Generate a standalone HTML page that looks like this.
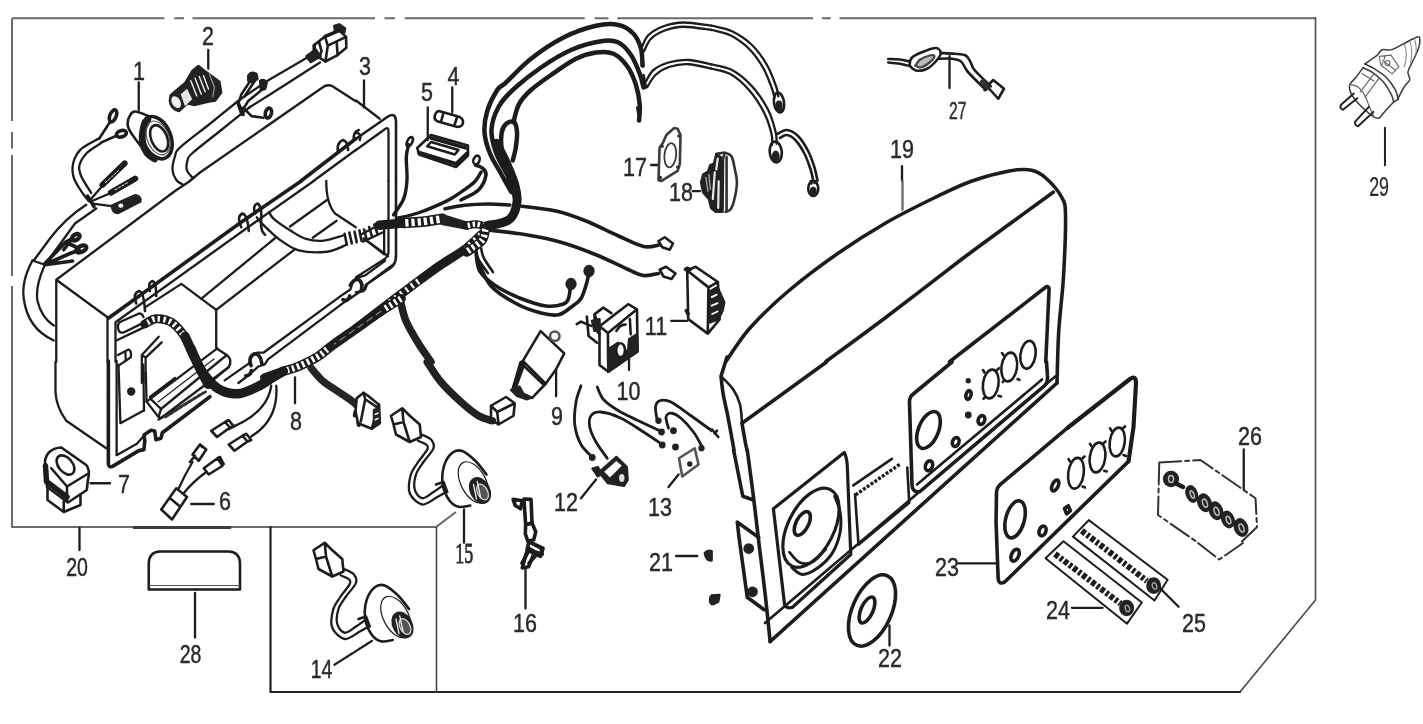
<!DOCTYPE html>
<html><head><meta charset="utf-8"><title>Parts diagram</title>
<style>
html,body{margin:0;padding:0;background:#fff;}
body{width:1423px;height:724px;overflow:hidden;position:relative;font-family:"Liberation Sans",sans-serif;}
svg{position:absolute;left:0;top:0;display:block}
svg path,svg line,svg ellipse,svg circle,svg rect,svg polyline,svg polygon{vector-effect:non-scaling-stroke}
.d{fill:none;stroke:#1e1e1e;stroke-width:2.3;stroke-linecap:round;stroke-linejoin:round}
.t{stroke-width:1.2}
.k{stroke-width:2.6}
.kk{stroke-width:3.6}
.f{fill:#222;stroke:#222}
.w{fill:#fff}
.fr{fill:none;stroke:#6a6a6a;stroke-width:2}
/*labels*/
text{font-family:"Liberation Sans",sans-serif;font-size:25px;fill:#2a2a2a;stroke:#2a2a2a;stroke-width:.45;text-anchor:middle}
</style></head><body>
<svg width="1423" height="724" viewBox="0 0 1423 724">
<defs><filter id="b" x="-2%" y="-2%" width="104%" height="104%"><feGaussianBlur stdDeviation="0.7"/></filter></defs>
<g filter="url(#b)">
<!-- 00_frame.svg -->
<g class="fr">
<path d="M12,18.3 H164.4 M174.3,18.3 H184 M192.5,18.3 H375 M384.5,18.3 H395 M404.75,18.3 H584.75 M594.75,18.3 H608.5 M617.25,18.3 H813 M822,18.3 H830.75 M839.5,18.3 H1315.5"/>
<path d="M1315.5,17.3 V600" style="stroke-width:1.7;stroke:#555"/>
<path d="M1315.5,600 L1240,692" style="stroke-width:1.5;stroke:#444"/>
<path d="M12,18.3 V121 M12,132 V148.6 M12,155 V276 M12,286 V527 H436 L456,512"/>
</g>
<path class="d" d="M1240,692 H270.5 V527" style="stroke:#222;stroke-width:2.2"/>
<path class="d" d="M436.5,527 V692" style="stroke:#444;stroke-width:1.6"/>
<path d="M133,527.5 H231" style="stroke:#3a3a3a;stroke-width:3;fill:none"/>
<!-- 10_t00.svg -->
<g transform="translate(0 0) scale(.25)" class="d">
<!-- leaders -->
<path d="M555,330 V440 M833,200 V275"/>
<!-- tube from connector -->
<path d="M1250,218 L1075,320 L960,398"/><path d="M960,398 C940.0,414.2 880.0,463.0 840,495 C800.0,527.0 743.3,568.3 720,590 C696.7,611.7 705.0,610.0 700,625 C695.0,640.0 689.0,664.0 690,680 C691.0,696.0 699.2,711.3 706,721 C712.8,730.7 726.8,735.2 731,738"/>
<path d="M1280,250 L1080,378 L1000,428"/><path d="M1000,428 C980.8,443.3 923.3,489.3 885,520 C846.7,550.7 792.5,591.7 770,612 C747.5,632.3 753.7,630.3 750,642 C746.3,653.7 744.2,670.2 748,682 C751.8,693.8 768.8,707.8 773,713"/>
<!-- flange top continuing -->
<path class="kk" d="M1205,723 L1423,555"/>
<path d="M1255,723 L1423,600"/>
<path class="k" d="M1352,610 Q1345,570 1372,560 Q1392,565 1392,600 M1415,560 Q1412,528 1435,520"/>
<!-- box top edge -->
<path d="M1423,405 L1330,345 Q1310,335 1290,350 L800,690 L760,723"/>
</g>
<!-- 11_t01.svg -->
<g transform="translate(0 181) scale(.25)" class="d">
<!-- big tube going down-left -->
<path d="M345,95 Q260,150 200,230 L135,318 M385,110 L300,170 L180,335"/>
<path d="M130,318 L180,335"/>
<path d="M130,318 Q85,400 95,470 Q110,590 215,638 M180,335 Q140,420 150,480 Q165,545 215,578"/>
<!-- ring terminals small -->
<path d="M180,330 L262,245 L292,228 M185,332 L280,290 L318,276 M180,335 L290,320" class="kk"/>
<ellipse cx="303" cy="225" rx="17" ry="11" transform="rotate(-35 303 225)" style="stroke-width:4.2"/>
<ellipse cx="325" cy="272" rx="22" ry="12" transform="rotate(-25 325 272)" style="stroke-width:4.2"/>
<path d="M262,245 L300,262 M255,275 L285,235" class="kk"/>
<!-- box -->
<path d="M225,723 V395 L430,545 M225,395 L700,40 L760,0"/>
<path class="kk" d="M435,548 L960,168 L1205,0"/>
<path d="M430,545 V723 M462,565 L985,190 L1255,0 M462,565 V723"/>
<!-- clips -->
<path class="k" d="M545,490 Q530,450 555,440 Q575,440 580,520 M600,440 Q590,405 610,400 Q625,405 625,460"/>
<path class="k" d="M965,185 Q945,140 970,130 Q990,135 995,200 M1020,130 Q1010,95 1030,90 Q1048,100 1045,150 Q1040,200 1060,215"/>
<!-- upper bits kept -->
<path d="M1305,0 Q1305,90 1340,130 L1423,185"/>
</g>
<!-- 12_t02.svg -->
<g transform="translate(0 362) scale(.25)" class="d">
<!-- box left face & bottom -->
<path d="M222,0 V120 Q225,180 265,235 L425,345"/>
<!-- branch to connector -->
<path d="M1245,25 C1252.5,33.3 1274.2,60.8 1290,75 C1305.8,89.2 1321.7,97.5 1340,110 C1358.3,122.5 1385.0,139.2 1400,150 C1415.0,160.8 1425.0,170.8 1430,175" style="stroke-width:7.5;stroke:#262626"/>
<!-- leader 8 -->
<path d="M1180,62 V165"/>
<!-- thin wires -->
<path d="M1085,95 Q1070,200 935,258 M1105,95 Q1115,230 1005,298"/>
<!-- connectors -->
<path class="k" d="M845,275 L900,240 L920,262 L868,300 Z M900,240 L915,232 L935,258 L920,262 M915,268 L940,255"/>
<path class="k" d="M915,330 L970,295 L990,318 L938,355 Z M970,295 L985,287 L1005,312 L990,318"/>
<path class="k" d="M770,370 L800,330 L825,350 L795,395 Z M760,400 L780,375 M800,330 L810,340"/>
<path class="k" d="M815,425 L870,385 L890,415 L835,450 Z M870,385 L880,380 L895,408"/>
<path d="M770,400 Q740,450 715,505 M825,440 Q770,480 735,525"/>
<path class="k" d="M645,590 L705,505 L748,540 L688,630 Z M680,545 L720,578"/>
<path d="M765,568 H855 M362,485 H440"/>
<!-- part 7 switch -->
<path class="k w" d="M180,395 Q190,345 245,342 L345,412 Q362,432 352,470 L347,512 L272,562 L188,500 Z"/>
<ellipse cx="262" cy="412" rx="28" ry="44" transform="rotate(-40 262 412)" class="k"/>
<path d="M182,415 L186,478 L268,540" style="stroke-width:5.5"/>
<path class="k" d="M268,498 L350,448 M268,498 L268,560 M205,425 L268,498"/>
<path class="k" d="M190,500 V552 L255,600 L322,572 V530 M255,600 V558"/>
</g>
<!-- 13_t03.svg -->
<g transform="translate(0 543) scale(.25)" class="d">
<path d="M318,-60 V28"/>
<path class="k" d="M595,186 V80 Q597,36 640,34 H915 Q958,36 960,80 V186 Z"/>
<path d="M597,170 H958" class="t" style="stroke:#555"/>
<path d="M780,200 V378"/>

</g>
<!-- 14_t10.svg -->
<g transform="translate(356 0) scale(.25)" class="d">
<path d="M32,322 V430 M385,350 V450 M287,430 V560 M1180,660 H1208"/>
<!-- flange corner -->
<path class="k" d="M0,555 L128,466 Q158,448 160,485 V723"/>
<path d="M0,600 L118,515 Q130,508 130,525 V723"/>
<path d="M0,402 L95,475"/>
<path class="k" d="M0,530 Q25,535 15,560"/>
<!-- fuse 4 -->
<path class="k" d="M335,445 L415,468 Q435,480 425,500 Q415,512 395,505 L325,485 Q308,475 318,455 Q325,442 335,445 Z M350,450 L340,488 M405,466 L393,503"/>
<!-- fuse holder 5 -->
<path class="k" d="M245,592 L300,540 L448,582 L448,622 L400,668 L252,618 Z"/>
<path class="kk" d="M252,610 L400,655 L445,612 M300,552 L440,592"/>
<path class="k" d="M285,585 L395,618 L410,600 L300,568 Z"/>
<!-- small terminals -->
<ellipse cx="215" cy="567" rx="10" ry="20" transform="rotate(25 215 567)" class="k"/>

<ellipse cx="482" cy="640" rx="12" ry="18" transform="rotate(20 482 640)" class="k"/>
<path style="stroke-width:3.6" d="M478,660 C482.5,662.0 498.0,665.3 505,672 C512.0,678.7 522.5,685.3 520,700 C517.5,714.7 506.7,743.3 490,760 C473.3,776.7 431.7,793.3 420,800"/>
<!-- big wires -->
<g style="stroke-width:4.5;stroke:#1c1c1c">
<path d="M621,768 C614.5,756.3 596.2,723.7 582,698 C567.8,672.3 547.3,642.2 536,614 C524.7,585.8 515.8,557.3 514,529 C512.2,500.7 516.5,472.2 525,444 C533.5,415.8 552.5,379.0 565,360 C577.5,341.0 577.5,350.8 600,330 C622.5,309.2 661.7,265.0 700,235 C738.3,205.0 786.7,172.0 830,150 C873.3,128.0 923.3,111.3 960,103 C996.7,94.7 1025.0,94.7 1050,100 C1075.0,105.3 1095.0,119.2 1110,135 C1125.0,150.8 1134.0,173.8 1140,195 C1146.0,216.2 1145.0,250.8 1146,262"/>
<path d="M644,768 C637.3,756.3 618.2,724.7 604,698 C589.8,671.3 569.3,638.0 559,608 C548.7,578.0 540.2,548.0 542,518 C543.8,488.0 555.8,454.3 570,428 C584.2,401.7 598.7,386.3 627,360 C655.3,333.7 701.2,296.7 740,270 C778.8,243.3 820.0,217.5 860,200 C900.0,182.5 948.3,170.0 980,165 C1011.7,160.0 1030.0,160.8 1050,170 C1070.0,179.2 1085.8,199.2 1100,220 C1114.2,240.8 1126.7,273.3 1135,295 C1143.3,316.7 1147.5,340.8 1150,350"/>
<path d="M632,490 C632.5,486.2 631.2,480.2 635,467 C638.8,453.8 644.2,428.8 655,411 C665.8,393.2 679.2,378.5 700,360 C720.8,341.5 750.0,320.8 780,300 C810.0,279.2 850.0,250.0 880,235 C910.0,220.0 935.0,213.3 960,210 C985.0,206.7 1009.2,205.8 1030,215 C1050.8,224.2 1070.0,244.2 1085,265 C1100.0,285.8 1111.7,314.2 1120,340 C1128.3,365.8 1133.0,396.3 1135,420 C1137.0,443.7 1132.5,471.7 1132,482"/>
<path d="M640,790 C635.8,781.7 621.0,759.0 615,740 C609.0,721.0 609.3,699.8 604,676 C598.7,652.2 586.5,621.5 583,597 C579.5,572.5 580.0,546.0 583,529 C586.0,512.0 592.8,501.8 601,495 C609.2,488.2 624.8,482.3 632,488 C639.2,493.7 642.8,511.8 644,529 C645.2,546.2 641.8,572.2 639,591 C636.2,609.8 629.0,633.5 627,642"/>
</g>
<path class="k" d="M1140,190 L1150,265 M1150,300 L1160,350 M1125,430 L1135,485"/>
<!-- thin double wires -->
<path d="M1145,185 C1149.2,177.5 1155.8,153.3 1170,140 C1184.2,126.7 1206.7,113.3 1230,105 C1253.3,96.7 1277.8,90.3 1310,90 C1342.2,89.7 1404.2,100.8 1423,103 M1152,205 C1156.7,196.7 1166.2,168.8 1180,155 C1193.8,141.2 1213.3,130.0 1235,122 C1256.7,114.0 1278.7,107.3 1310,107 C1341.3,106.7 1404.2,117.8 1423,120"/>
<path d="M1160,325 C1165.0,317.5 1175.0,292.5 1190,280 C1205.0,267.5 1226.7,256.7 1250,250 C1273.3,243.3 1301.2,238.7 1330,240 C1358.8,241.3 1407.5,255.0 1423,258 M1165,348 C1170.8,339.7 1185.0,311.5 1200,298 C1215.0,284.5 1233.3,273.8 1255,267 C1276.7,260.2 1302.0,255.7 1330,257 C1358.0,258.3 1407.5,272.0 1423,275"/>
</g>
<!-- 15_t11.svg -->
<g transform="translate(356 181) scale(.25)" class="d">
<!-- flange right edge -->
<path class="k" d="M160,0 V300 Q160,335 135,350 L40,415 L30,440 L0,445"/>
<path d="M130,0 V285 Q128,305 110,315 L0,385 M30,230 L128,300"/>
<!-- thin wire top-left -->

<!-- harness main -->
<g style="stroke:#1c1c1c;stroke-width:9">
<path d="M500,215 C490.0,224.2 466.7,250.0 440,270 C413.3,290.0 371.7,313.3 340,335 C308.3,356.7 285.0,374.2 250,400 C215.0,425.8 171.7,458.3 130,490 C88.3,521.7 21.7,573.3 0,590"/>
</g>
<g style="stroke:#fff;stroke-width:6;stroke-dasharray:2.2 4.5;stroke-linecap:butt">
<path d="M500,215 L440,270"/>
<path d="M250,400 L130,490"/>
</g>
<g style="stroke:#222;stroke-width:7.5">
<path d="M180,490 C183.3,501.7 188.3,533.3 200,560 C211.7,586.7 233.3,622.8 250,650 C266.7,677.2 291.7,710.8 300,723"/>
</g>
<!-- wires to right -->
<g style="stroke:#1c1c1c;stroke-width:3.6">
<path d="M640,98 C666.7,101.7 753.3,109.7 800,120 C846.7,130.3 878.3,143.3 920,160 C961.7,176.7 1011.7,203.0 1050,220 C1088.3,237.0 1122.5,256.2 1150,262 C1177.5,267.8 1204.2,256.2 1215,255"/>
<path d="M520,195 C546.7,198.3 630.0,206.7 680,215 C730.0,223.3 773.3,231.7 820,245 C866.7,258.3 916.7,277.5 960,295 C1003.3,312.5 1048.3,336.2 1080,350 C1111.7,363.8 1128.3,374.7 1150,378 C1171.7,381.3 1200.0,371.3 1210,370"/>
<path d="M480,285 C482.5,297.5 481.7,337.5 495,360 C508.3,382.5 532.5,401.7 560,420 C587.5,438.3 626.7,456.7 660,470 C693.3,483.3 731.7,496.3 760,500 C788.3,503.7 815.0,497.0 830,492 C845.0,487.0 845.3,482.0 850,470 C854.7,458.0 856.7,428.3 858,420"/>
<path d="M488,320 C496.7,336.7 514.7,391.7 540,420 C565.3,448.3 606.7,472.0 640,490 C673.3,508.0 711.7,520.5 740,528 C768.3,535.5 790.0,538.8 810,535 C830.0,531.2 845.0,515.8 860,505 C875.0,494.2 889.2,487.5 900,470 C910.8,452.5 920.0,417.5 925,400 C930.0,382.5 929.2,370.8 930,365"/>
</g>
<ellipse cx="860" cy="412" rx="18" ry="20" class="f"/>
<ellipse cx="932" cy="360" rx="18" ry="20" class="f"/>
<path class="k" d="M1210,240 L1235,225 L1268,250 L1255,275 L1225,265 Z M1215,355 L1240,343 L1278,370 L1262,392 L1230,382 Z"/>
<!-- leaders -->

</g>
<!-- 16_t12.svg -->
<g transform="translate(356 362) scale(.25)" class="d">
<path d="M432,590 V723 M900,545 L960,470 M1250,500 L1290,450"/>
<!-- thick wire to connector -->
<path d="M285,0 C294.2,13.3 317.5,53.3 340,80 C362.5,106.7 395.0,137.5 420,160 C445.0,182.5 469.2,202.5 490,215 C510.8,227.5 535.8,231.7 545,235" style="stroke-width:7.5;stroke:#222"/>
<path class="k" d="M540,175 L600,140 L635,165 L630,215 L570,250 L540,230 Z M570,250 L565,200 L540,175 M565,200 L635,165"/>
<!-- part 12 -->
<g style="stroke-width:2.8">
<path d="M950,385 C941.7,375.8 912.5,352.5 900,330 C887.5,307.5 878.3,278.3 875,250 C871.7,221.7 875.8,185.8 880,160 C884.2,134.2 896.7,105.8 900,95"/>
<path d="M1005,385 C997.5,374.2 971.7,340.8 960,320 C948.3,299.2 938.3,277.5 935,260 C931.7,242.5 932.5,225.0 940,215 C947.5,205.0 960.0,198.3 980,200 C1000.0,201.7 1031.7,211.7 1060,225 C1088.3,238.3 1122.5,262.5 1150,280 C1177.5,297.5 1212.5,321.7 1225,330"/>
<path d="M965,100 C969.2,108.3 975.8,134.2 990,150 C1004.2,165.8 1026.7,180.8 1050,195 C1073.3,209.2 1100.8,220.8 1130,235 C1159.2,249.2 1209.2,272.5 1225,280"/>
<path d="M1205,235 C1203.8,225.8 1196.3,193.3 1198,180 C1199.7,166.7 1204.7,158.3 1215,155 C1225.3,151.7 1239.2,150.0 1260,160 C1280.8,170.0 1312.8,195.8 1340,215 C1367.2,234.2 1409.2,265.0 1423,275"/>
<path d="M1250,265 C1248.3,257.5 1238.0,230.0 1240,220 C1242.0,210.0 1252.0,204.2 1262,205 C1272.0,205.8 1285.3,212.5 1300,225 C1314.7,237.5 1336.3,261.7 1350,280 C1363.7,298.3 1376.7,325.8 1382,335"/>
</g>
<circle cx="945" cy="382" r="9" class="f"/><circle cx="1222" cy="280" r="9" class="f"/><circle cx="1225" cy="332" r="9" class="f"/>
<circle cx="1210" cy="235" r="8" class="f"/><circle cx="1270" cy="275" r="9" class="f"/><circle cx="1278" cy="340" r="9" class="f"/><circle cx="1382" cy="345" r="8" class="f"/>
<!-- part 13 -->
<path class="k" d="M1292,385 L1355,345 L1370,410 L1305,458 Z" style="stroke:#555"/>
<circle cx="1335" cy="408" r="6"/>
</g>
<!-- 17_t13.svg -->
<g transform="translate(356 543) scale(.25)" class="d">
<path d="M678,100 V262 M1280,52 H1365"/>
<!-- 21 dots -->
<path class="f" d="M1395,40 Q1405,28 1423,32 V70 Q1400,72 1395,40 Z M1418,215 L1423,210 V245 Q1412,235 1418,215 Z"/>
</g>
<!-- 18_t20.svg -->
<g transform="translate(712 0) scale(.25)" class="d">
<path d="M950,225 V352 M760,665 V723"/>
<path d="M0,103 C13.3,106.7 53.3,112.2 80,125 C106.7,137.8 136.7,157.5 160,180 C183.3,202.5 203.7,231.7 220,260 C236.3,288.3 250.5,329.2 258,350 C265.5,370.8 263.8,379.2 265,385 M0,120 C12.5,123.7 50.3,129.5 75,142 C99.7,154.5 126.3,173.3 148,195 C169.7,216.7 189.7,245.3 205,272 C220.3,298.7 232.5,335.3 240,355 C247.5,374.7 248.3,384.2 250,390"/>
<ellipse cx="268" cy="410" rx="20" ry="40" transform="rotate(-8 268 410)" class="k"/>
<ellipse cx="268" cy="425" rx="10" ry="18" class="f"/>
<path d="M0,258 C13.3,261.7 53.3,265.5 80,280 C106.7,294.5 135.8,318.3 160,345 C184.2,371.7 209.2,409.2 225,440 C240.8,470.8 249.5,507.5 255,530 C260.5,552.5 257.5,567.5 258,575 M0,275 C12.5,278.7 50.3,282.8 75,297 C99.7,311.2 125.8,334.5 148,360 C170.2,385.5 193.0,420.8 208,450 C223.0,479.2 232.7,513.3 238,535 C243.3,556.7 239.7,572.5 240,580"/>
<ellipse cx="255" cy="608" rx="24" ry="42" transform="rotate(-5 255 608)" class="k"/>
<ellipse cx="255" cy="625" rx="11" ry="18" class="f"/>
<path d="M262,535 C268.3,532.5 286.2,518.3 300,520 C313.8,521.7 330.8,530.8 345,545 C359.2,559.2 374.2,584.2 385,605 C395.8,625.8 403.8,650.3 410,670 C416.2,689.7 420.0,714.2 422,723 M272,552 C276.7,550.0 289.5,538.3 300,540 C310.5,541.7 323.3,549.5 335,562 C346.7,574.5 360.0,595.3 370,615 C380.0,634.7 389.2,662.0 395,680 C400.8,698.0 403.3,715.8 405,723" class="k"/>
<!-- part 27 -->
<path class="k" d="M705,236 C712.5,236.3 735.8,236.3 750,238 C764.2,239.7 783.3,244.7 790,246 M705,250 C711.7,250.7 732.5,252.0 745,254 C757.5,256.0 774.2,260.7 780,262"/>
<path class="k" d="M790,262 C791.7,256.7 790.0,239.5 800,230 C810.0,220.5 834.2,211.3 850,205 C865.8,198.7 884.2,191.2 895,192 C905.8,192.8 914.2,202.0 915,210 C915.8,218.0 909.2,229.2 900,240 C890.8,250.8 874.2,268.0 860,275 C845.8,282.0 826.7,284.2 815,282 C803.3,279.8 794.2,265.3 790,262 C785.8,258.7 788.3,267.3 790,262Z"/>
<path d="M815,262 C817.5,258.3 820.8,246.7 830,240 C839.2,233.3 860.0,224.5 870,222 C880.0,219.5 890.0,220.3 890,225 C890.0,229.7 879.2,242.5 870,250 C860.8,257.5 844.2,268.0 835,270 C825.8,272.0 818.3,263.3 815,262 C811.7,260.7 812.5,265.7 815,262Z" style="stroke:#444;fill:#bbb"/>
<path class="k" d="M915,212 C924.2,212.5 953.3,213.3 970,215 C986.7,216.7 1004.2,216.2 1015,222 C1025.8,227.8 1029.2,240.3 1035,250 C1040.8,259.7 1036.7,264.2 1050,280 C1063.3,295.8 1104.2,334.2 1115,345 M905,235 C914.2,235.0 945.0,233.3 960,235 C975.0,236.7 985.8,238.3 995,245 C1004.2,251.7 1009.2,266.7 1015,275 C1020.8,283.3 1016.7,280.8 1030,295 C1043.3,309.2 1084.2,349.2 1095,360"/>
<path class="k" d="M1100,345 L1125,320 L1168,355 L1145,395 Z M1110,335 L1090,360"/>
<path d="M1080,328 L1105,352" style="stroke-width:4.5;stroke:#333"/>
</g>
<!-- 19_t21.svg -->
<g transform="translate(712 181) scale(.25)" class="d">
<path d="M762,0 V115" style="stroke:#666"/>
<path class="kk" d="M55,723 C70.8,700.8 109.2,636.3 150,590 C190.8,543.7 241.7,494.7 300,445 C358.3,395.3 433.3,338.7 500,292 C566.7,245.3 633.3,203.3 700,165 C766.7,126.7 843.3,89.5 900,62 C956.7,34.5 991.8,17.0 1040,0 C1088.2,-17.0 1149.2,-32.8 1189,-40 C1228.8,-47.2 1254.7,-47.7 1279,-43 C1303.3,-38.3 1315.3,-29.5 1335,-12 C1354.7,5.5 1383.8,37.5 1397,62 C1410.2,86.5 1412.5,81.7 1414,135 C1415.5,188.3 1410.5,304.5 1406,382 C1401.5,459.5 1391.3,529.0 1387,600 C1382.7,671.0 1381.2,773.3 1380,808"/>
<path class="kk" d="M455,723 C495.8,692.8 609.2,610.5 700,542 C790.8,473.5 916.7,374.8 1000,312 C1083.3,249.2 1139.2,209.5 1200,165 C1260.8,120.5 1337.5,65.0 1365,45"/>
<path class="kk" d="M950,723 L1338,422 Q1350,420 1348,440 L1335,723"/>
<!-- terminal -->
<ellipse cx="405" cy="30" rx="20" ry="30" class="k"/><ellipse cx="405" cy="42" rx="9" ry="14" class="f"/>
<path class="k" d="M395,0 L398,10 M412,0 L410,8"/>
</g>
<!-- 20_t22.svg -->
<g transform="translate(712 362) scale(.25)" class="d">
<!-- left band of panel -->
<path class="kk" d="M60,-20 L36,57 M36,57 C37.5,69.2 40.7,104.5 45,130 C49.3,155.5 54.8,173.0 62,210 C69.2,247.0 83.7,328.3 88,352"/>
<path class="k" d="M36,57 C44.2,65.8 72.3,91.2 85,110 C97.7,128.8 106.2,148.0 112,170 C117.8,192.0 118.7,230.0 120,242"/>
<path class="kk" d="M120,245 C122.2,257.5 129.7,302.2 133,320 C136.3,337.8 138.8,346.7 140,352"/>
<path class="kk" d="M120,245 L458,0"/>
<path class="k" d="M0,270 L25,300 M10,285 L20,275"/>
<!-- control recess -->
<path class="kk" d="M960,0 L805,128 Q788,140 790,165 L800,490 Q802,525 832,518 L1330,95 Q1345,80 1342,55 L1338,0"/>
<path class="k" d="M820,490 L1320,70"/>
<ellipse cx="866" cy="272" rx="40" ry="78" transform="rotate(22 866 272)" class="kk"/>
<ellipse cx="868" cy="415" rx="14" ry="20" transform="rotate(20 868 415)" class="kk"/>
<ellipse cx="975" cy="320" rx="13" ry="18" transform="rotate(20 975 320)" class="kk"/>
<ellipse cx="1078" cy="232" rx="13" ry="18" transform="rotate(20 1078 232)" class="kk"/>
<ellipse cx="1026" cy="132" rx="10" ry="18" transform="rotate(15 1026 132)" class="kk"/>
<circle cx="1025" cy="212" r="9" class="f"/><circle cx="1025" cy="75" r="6" class="f"/>
<g class="k">
<ellipse cx="1115" cy="88" rx="31" ry="58" transform="rotate(8 1115 88)"/>
<ellipse cx="1189" cy="20" rx="31" ry="58" transform="rotate(8 1189 20)"/>
<ellipse cx="1264" cy="-29" rx="30" ry="56" transform="rotate(8 1264 -29)"/>
<path d="M1090,42 L1084,32 M1140,32 L1148,25 M1093,140 L1086,147 M1146,135 L1156,138 M1166,-27 L1160,-36 M1170,72 L1163,80 M1222,68 L1230,72"/>
</g>
</g>
<!-- 21_t23.svg -->
<g transform="translate(712 543) scale(.25)" class="d">
<path d="M710,330 V410"/>
<path class="f" d="M0,210 L30,208 L25,235 L5,245 Z"/>
<!-- part 22 -->
<ellipse cx="640" cy="270" rx="78" ry="152" transform="rotate(24 640 270)" class="kk"/>
<ellipse cx="620" cy="268" rx="24" ry="56" transform="rotate(24 620 268)" class="kk"/>
</g>
<!-- 22_t30.svg -->
<g transform="translate(1320 20) scale(.17944)" class="d" style="stroke:#3a3a3a;stroke-width:1.5">
<path d="M362,600 V810" style="stroke:#222;stroke-width:2"/>
<!-- cone -->
<path d="M250,245 C261.7,236.7 304.2,208.2 320,195 C335.8,181.8 331.7,171.0 345,166 C358.3,161.0 379.2,171.0 400,165 C420.8,159.0 447.0,141.5 470,130 C493.0,118.5 523.7,100.3 538,96 C552.3,91.7 554.3,93.3 556,104 C557.7,114.7 555.3,137.3 548,160 C540.7,182.7 521.7,218.3 512,240 C502.3,261.7 492.0,274.7 490,290 C488.0,305.3 503.3,318.3 500,332 C496.7,345.7 481.3,353.7 470,372 C458.7,390.3 438.3,430.3 432,442"/>
<path d="M470,135 Q492,190 470,260 M500,118 Q520,170 505,240 M525,104 Q540,140 535,190" style="stroke:#888;stroke-width:1.1"/>
<!-- collar -->
<path d="M250,245 C258.3,249.2 280.0,257.5 300,270 C320.0,282.5 350.0,300.0 370,320 C390.0,340.0 409.0,369.7 420,390 C431.0,410.3 433.3,433.3 436,442"/>
<path d="M240,266 C248.3,270.2 271.7,278.3 290,291 C308.3,303.7 332.5,322.2 350,342 C367.5,361.8 384.8,391.0 395,410 C405.2,429.0 408.3,448.3 411,456"/>
<path d="M436,442 L411,456"/>
<!-- body -->
<path d="M240,266 C233.3,275.0 212.3,304.3 200,320 C187.7,335.7 171.0,346.3 166,360 C161.0,373.7 164.3,387.0 170,402 C175.7,417.0 186.7,433.7 200,450 C213.3,466.3 233.3,485.0 250,500 C266.7,515.0 286.7,532.3 300,540 C313.3,547.7 321.3,549.3 330,546 C338.7,542.7 338.5,535.0 352,520 C365.5,505.0 401.2,466.7 411,456"/>
<path d="M166,360 C173.3,362.0 196.0,362.0 210,372 C224.0,382.0 240.0,403.7 250,420 C260.0,436.3 261.7,450.0 270,470 C278.3,490.0 295.0,528.3 300,540" style="stroke:#666;stroke-width:1.2"/>
<path d="M300,300 L225,400 M330,322 L250,432 M235,300 L300,340" style="stroke:#666;stroke-width:1.2"/>
<!-- top detail -->
<path d="M330,202 L395,196 L440,260 L402,300 L340,252 Z M350,225 L420,280 M365,198 L345,250" style="stroke:#666;stroke-width:1.1"/>
<circle cx="376" cy="240" r="14" style="stroke:#666;stroke-width:1.1"/>
<!-- pins -->
<path d="M188,410 L116,474 Q108,492 128,500 L208,436 M272,484 L196,566 Q190,586 212,592 L298,512" style="stroke:#222;stroke-width:2"/>
</g>
<!-- 23_t32.svg -->
<g transform="translate(1068 362) scale(.25)" class="d">
<path d="M703,350 V510"/>
<!-- plate 23 -->
<path style="stroke-width:4.2" d="M0,262 L248,68 Q272,52 272,85 L262,260 L242,398"/>
<g class="k">
<ellipse cx="32" cy="445" rx="31" ry="62" transform="rotate(8 32 445)"/>
<ellipse cx="118" cy="382" rx="31" ry="60" transform="rotate(8 118 382)"/>
<ellipse cx="197" cy="320" rx="30" ry="58" transform="rotate(8 197 320)"/>
<path d="M8,398 L2,388 M58,385 L66,378 M58,498 L68,502 M94,337 L88,327 M142,325 L150,318 M145,435 L155,438 M174,275 L168,265 M220,265 L228,258 M222,372 L232,376"/>
</g>
<!-- part 26 outline -->
<path d="M365,402 L530,392 L750,545 L756,660 L690,723 M365,402 L360,612 L520,723" style="stroke-dasharray:22 4 4 4;stroke:#333;stroke-width:2"/>
<circle cx="412" cy="468" r="28" class="f"/>
<path d="M430,485 L460,500" style="stroke-width:4.5"/>
<g class="f">
<ellipse cx="495" cy="528" rx="20" ry="32" transform="rotate(-20 495 528)"/>
<ellipse cx="546" cy="563" rx="24" ry="34" transform="rotate(-20 546 563)"/>
<ellipse cx="592" cy="595" rx="24" ry="34" transform="rotate(-20 592 595)"/>
<ellipse cx="640" cy="630" rx="22" ry="32" transform="rotate(-20 640 630)"/>
<ellipse cx="692" cy="662" rx="24" ry="34" transform="rotate(-20 692 662)"/>
</g>
<g style="stroke:#bbb;stroke-width:1.5;fill:none">
<ellipse cx="412" cy="468" rx="10" ry="14"/><ellipse cx="497" cy="530" rx="7" ry="16" transform="rotate(-20 497 530)"/>
<ellipse cx="548" cy="565" rx="9" ry="17" transform="rotate(-20 548 565)"/><ellipse cx="594" cy="597" rx="9" ry="17" transform="rotate(-20 594 597)"/>
<ellipse cx="642" cy="632" rx="8" ry="16" transform="rotate(-20 642 632)"/><ellipse cx="694" cy="664" rx="9" ry="17" transform="rotate(-20 694 664)"/>
</g>
</g>
<!-- 24_t33.svg -->
<g transform="translate(1068 543) scale(.25)" class="d">

<path d="M520,0 L605,66 L700,0" style="stroke-dasharray:22 4 4 4;stroke:#333;stroke-width:2"/>
</g>
<!-- 30_detA.svg -->
<g transform="translate(120 20) scale(.16866)" class="d">
<!-- part 2 plug -->
<path class="f" d="M300,445 L385,375 L430,300 L465,272 L500,300 L590,365 L600,430 L565,478 L520,485 L440,505 L400,495 L350,540 Q300,530 295,480 Z"/>
<ellipse cx="333" cy="487" rx="25" ry="38" transform="rotate(-30 333 487)" style="fill:#eee;stroke:none"/>
<path d="M360,440 L398,408 L428,470 L385,512 Z" style="fill:#e6e6e6;stroke:none"/>
<path d="M420,360 L455,450 M445,345 L482,440 M470,335 L505,425 M495,330 L525,410" style="stroke:#eee;stroke-width:1.4"/>
<path d="M530,320 L560,400 L550,455" style="stroke:#999;stroke-width:1.2"/>
<!-- connector -->
<path class="k w" d="M1150,150 L1215,98 L1300,62 L1340,100 L1342,165 L1290,208 L1218,246 L1180,222 L1152,185 Z"/>
<path class="k" d="M1215,98 L1232,152 L1218,246 M1232,152 L1340,100 M1180,130 L1195,185 L1180,222 M1290,208 L1285,130"/>
<path class="f" d="M1270,35 L1300,25 L1335,50 L1330,75 L1300,62 L1275,70 Z"/>
<path class="f" d="M1105,215 L1160,175 L1190,215 L1130,250 Z"/>
<path style="stroke-width:3.5" d="M1215,98 L1300,62 M1152,150 L1152,185"/>
<!-- tie clip -->
<path class="f" d="M760,330 Q780,300 810,320 L815,350 L780,370 L760,360 Z M830,360 Q860,345 870,375 L860,410 L835,415 Z"/>
<path class="k" d="M770,365 L720,440 L700,500 L720,560 M845,410 L760,480 L730,530 M800,360 L740,450 M730,520 L780,570 L850,580"/>
<path class="kk" d="M700,490 L730,560"/>
<ellipse cx="880" cy="552" rx="18" ry="30" transform="rotate(15 880 552)" class="kk"/>
</g>
<!-- 30b_bar.svg -->
<g class="d">
<path d="M146.6,401.6 L217.3,348.3 M150,397 L175,378 M161,409 L226.8,355 M161,418 L229,367"/>
<path d="M158,402 L214,359" class="t"/>
</g>
<!-- 31_viewA.svg -->
<g transform="translate(100 230) scale(.21127)" class="d">
<!-- inner block -->
<path d="M215,365 L385,255 L550,378 V560 L600,592 Q628,612 610,648 L520,724"/>
<path d="M1345,115 V-40 M1250,40 L1345,115"/>
<path d="M480,325 L828,39 M550,378 L925,89"/>
<!-- lower flange double line -->
<path d="M1350,145 L1255,215 L1232,222 L1212,228 L1195,250 L1185,282 L1150,305 L775,580 L745,580 L718,596 L705,632 L690,642 L590,712"/>
<path d="M1392,160 L1265,255 L1255,282 L1225,296 L1175,330 L1150,346 L795,612 L780,636 L750,646 L700,690 L655,724"/>
<path class="kk" d="M1185,262 Q1200,230 1225,235 Q1247,250 1236,286 M1150,330 Q1175,340 1182,312 M715,642 Q700,602 730,586 Q760,586 766,632 M690,690 Q712,690 716,665"/>
<!-- harness inside -->
<path d="M212,445 C220.8,440.8 244.5,421.7 265,420 C285.5,418.3 313.8,423.0 335,435 C356.2,447.0 376.2,470.8 392,492 C407.8,513.2 423.7,550.3 430,562" style="stroke-width:9;stroke:#1c1c1c"/>
<path d="M225,438 C231.7,435.0 246.7,420.5 265,420 C283.3,419.5 313.8,423.0 335,435 C356.2,447.0 377.0,472.8 392,492 C407.0,511.2 419.5,540.3 425,550" style="stroke-width:6;stroke:#fff;stroke-dasharray:2.4 3.2;stroke-linecap:butt"/>
<path d="M430,560 C436.7,575.0 456.3,621.7 470,650 C483.7,678.3 505.0,716.7 512,730" style="stroke-width:9.5;stroke:#1c1c1c"/>
<!-- left inner details -->
<path d="M85,455 Q85,438 100,433 L185,395 Q200,395 206,412 M85,455 Q85,492 112,485 L200,442 M80,522 L205,462"/>
<path d="M85,592 L135,566 Q150,570 146,602 L88,642 M120,575 L122,620"/>
<path d="M198,724 V592 L278,505 M216,724 V604 L292,532 M198,592 L216,604"/>
<!-- U-wire -->
<path d="M742,-60 C746.2,-55.0 749.5,-47.2 767,-30 C784.5,-12.8 818.2,22.0 847,43 C875.8,64.0 902.3,86.0 940,96 C977.7,106.0 1035.2,107.3 1073,103 C1110.8,98.7 1151.3,75.5 1167,70"/>
<path d="M800,-85 C804.2,-79.2 807.5,-65.0 825,-50 C842.5,-35.0 880.0,-10.3 905,5 C930.0,20.3 949.2,34.5 975,42 C1000.8,49.5 1030.8,52.7 1060,50 C1089.2,47.3 1135.0,30.0 1150,26"/>
<path d="M1158,18 L1168,70 M1180,12 L1192,64 M1205,8 L1215,58 M1228,2 L1238,52 M1250,-2 L1262,44 M1274,-14 L1288,32 M1298,-26 L1314,20" class="k"/>
<path d="M1238,20 L1335,-32 M1245,55 L1345,8"/>
<!-- main harness lower right -->
<path d="M1425,325 C1410.8,333.8 1374.2,355.2 1340,378 C1305.8,400.8 1260.0,434.0 1220,462 C1180.0,490.0 1131.7,523.0 1100,546 C1068.3,569.0 1056.7,583.5 1030,600 C1003.3,616.5 968.3,633.0 940,645 C911.7,657.0 886.7,662.8 860,672 C833.3,681.2 793.3,695.3 780,700" style="stroke-width:9.5;stroke:#1c1c1c"/>
<path d="M1425,325 L1350,372" style="stroke-width:6.5;stroke:#fff;stroke-dasharray:2.4 3;stroke-linecap:butt"/>
<path d="M1075,565 C1067.5,570.8 1052.5,586.7 1030,600 C1007.5,613.3 965.0,634.2 940,645 C915.0,655.8 890.0,661.7 880,665" style="stroke-width:6.5;stroke:#fff;stroke-dasharray:2.6 2.8;stroke-linecap:butt"/>
<path d="M1330,385 C1311.7,397.8 1256.7,436.2 1220,462 C1183.3,487.8 1128.3,527.0 1110,540" style="stroke-width:1.2;stroke:#888;stroke-dasharray:6 5"/>
</g>
<!-- 32_boxglobal.svg -->
<g class="d">
<path d="M290,226.5 L327,200 M312.7,237.7 L336.6,220.8"/>
</g>
<!-- 33_viewF.svg -->
<g transform="translate(95 380) scale(.127033)" class="d">
<path class="kk" d="M105,-150 V660 Q108,692 138,680 L345,556 L385,548 L392,478 L386,432 L440,396 L470,402 L480,470 L520,458 L530,415 L905,132"/>
<path d="M170,-150 V592 L330,502 L382,442"/>
<path d="M500,312 L872,92"/>
<path d="M555,290 L850,102" style="stroke-width:3;stroke-dasharray:3 2.5;stroke:#333"/>
<path d="M185,-120 L200,340 L380,242"/>
<circle cx="285" cy="90" r="24" class="f"/>
<path d="M380,-120 L386,242 M400,-60 L406,170 L500,292 L520,300 M500,292 L520,228 L440,150"/>
</g>
<!-- 34_viewB.svg -->
<g transform="translate(90 330) scale(.21127)" class="d">
<path d="M450,30 C456.7,45.0 475.0,90.0 490,120 C505.0,150.0 520.0,183.3 540,210 C560.0,236.7 583.3,264.7 610,280 C636.7,295.3 670.0,303.7 700,302 C730.0,300.3 763.3,282.3 790,270 C816.7,257.7 839.2,240.5 860,228 C880.8,215.5 905.8,200.5 915,195" style="stroke-width:9.5;stroke:#1c1c1c"/>
</g>
<!-- 35_p17_18.svg -->
<g transform="translate(600 110) scale(.11244)" class="d" style="stroke:#3a3a3a">
<path class="k" d="M520,622 L530,335 L560,292 L590,222 L660,160 L690,166 L716,222 L710,482 L690,542 L545,632 Z"/>
<ellipse cx="625" cy="402" rx="52" ry="108" transform="rotate(6 625 402)" style="stroke-width:1.8"/>
<g class="f" style="stroke:none;fill:#333"><circle cx="552" cy="322" r="16"/><circle cx="700" cy="232" r="14"/><circle cx="690" cy="508" r="15"/><circle cx="537" cy="600" r="15"/></g>
</g>
<g transform="translate(640 140) scale(.098384)" class="d">
<path class="k" d="M775,142 C789.2,140.0 834.2,125.7 860,130 C885.8,134.3 912.5,139.7 930,168 C947.5,196.3 955.8,256.3 965,300 C974.2,343.7 985.0,383.3 985,430 C985.0,476.7 975.0,535.0 965,580 C955.0,625.0 940.8,675.0 925,700 C909.2,725.0 879.2,725.0 870,730" style="stroke:#333"/>
<path class="f" d="M775,142 L752,240 L712,258 L692,320 L642,350 L620,430 L640,530 L700,600 L722,692 L770,730 L840,730 L845,190 Z"/>
<path d="M790,190 L775,300 M760,330 L740,600 M800,420 L795,690" style="stroke:#e8e8e8;stroke-width:2.2"/>
<path d="M670,380 L690,520 M700,350 L715,500" style="stroke:#999;stroke-width:1.5"/>
<path class="k" d="M880,172 V720 M845,190 L860,130" style="stroke:#333"/>
<path d="M535,520 H610"/>
</g>
<!-- 36_p9_10_11.svg -->
<g transform="translate(500 255) scale(.168658)" class="d">
<!-- part 11 -->
<path class="k" d="M1110,92 L1116,380 L1232,466 L1236,192 Z M1110,92 L1160,70 L1292,160 L1236,192 M1292,160 L1302,382 L1232,466"/>
<path class="f" d="M1245,215 L1290,190 L1330,280 L1320,330 L1296,380 L1246,400 Z"/>
<path d="M1255,250 L1285,235 M1255,300 L1290,285 M1258,350 L1290,335" style="stroke:#fff;stroke-width:1.8"/>
<path class="kk" d="M1100,85 Q1112,70 1125,88 M1105,330 L1115,350"/>
<path d="M1015,390 H1110"/>
<!-- part 10 -->
<path class="k w" d="M590,422 L760,292 L812,322 L816,572 L642,692 L590,652 Z"/>
<path class="k" d="M590,422 L640,462 L642,692 M640,462 L812,322 M560,352 L612,312 L660,345 M560,352 L590,422 M560,352 L565,440 L590,470"/>
<path class="f" d="M640,560 L700,520 L720,600 L760,560 L765,500 L812,470 L816,572 L642,692 Z"/>
<path class="f" d="M545,390 L590,380 L592,440 L560,450 Z"/>
<path d="M690,450 C694.2,445.0 705.8,426.3 715,420 C724.2,413.7 740.0,413.3 745,412" class="k"/>
<ellipse cx="715" cy="565" rx="26" ry="42" class="k w"/>
<path class="k" d="M455,410 L480,395 L540,420 M515,365 L525,480 L575,520 M770,380 L775,470"/>
<path d="M765,620 V682"/>
<!-- terminal rect -->
</g>
<g transform="translate(490 320) scale(.168658)" class="d">
<!-- part 9 -->
<path class="k w" d="M300,66 L440,198 L392,292 L330,378 L195,242 Z"/>
<path class="k" d="M195,242 L180,252 L135,408 L170,425 L250,462 L330,378 M180,252 L320,385"/>
<path style="stroke-width:5" d="M195,262 L145,402"/>
<path class="f" d="M125,415 L175,395 L200,440 L245,462 L215,470 L160,450 Z"/>
<circle cx="384" cy="96" r="28" class="k" style="stroke:#555"/>
<path d="M392,300 V452"/>
</g>
<!-- 37_p12_16.svg -->
<g transform="translate(500 440) scale(.168658)" class="d">
<!-- part 12 -->
<path class="f" d="M598,182 L690,100 L752,160 L757,236 L735,272 L640,256 L598,205 Z"/>
<path d="M618,188 L690,125 L722,152 L652,222 Z" style="fill:#fff;stroke:none"/>
<ellipse cx="722" cy="225" rx="16" ry="24" style="fill:#ddd;stroke:none"/>
<path class="f" d="M548,170 L580,160 L605,200 L580,215 Z"/>
<!-- part 16 -->
<path class="kk" d="M78,352 L132,360 L122,408 L90,388 Z"/>
<path class="kk" d="M142,350 L184,352 L190,492 L152,502 Z"/>
<path class="kk" d="M152,502 L190,492 L212,545 L200,592 L165,600 L150,555 Z"/>
<path class="kk" d="M172,602 L256,642 L240,690 L160,652 Z"/>
<path class="kk" d="M172,655 L130,730 M215,682 L172,730"/>
</g>
<g transform="translate(356 543) scale(.25)" class="d">
<path class="kk" d="M700,0 L740,20 L745,45 L715,35 L690,95 L665,100 L680,45 L690,20 M690,20 L715,35"/>
</g>
<!-- 38_p15_14.svg -->
<g transform="translate(356 362) scale(.25)" class="d">
<!-- part 15 -->
<path class="k" d="M140,215 L185,185 L215,215 L255,250 L260,300 L215,320 L160,290 L150,250 Z M185,185 L190,240 L215,320 M190,240 L150,250 M215,215 L255,250"/>
<path d="M262,290 C268.3,293.3 292.0,300.8 300,310 C308.0,319.2 315.0,330.0 310,345 C305.0,360.0 281.7,382.5 270,400 C258.3,417.5 245.8,431.7 240,450 C234.2,468.3 230.8,494.2 235,510 C239.2,525.8 252.5,543.3 265,545 C277.5,546.7 296.7,528.3 310,520 C323.3,511.7 339.2,499.2 345,495" />
<path d="M248,315 C253.3,317.5 273.8,324.2 280,330 C286.2,335.8 290.8,337.5 285,350 C279.2,362.5 256.2,387.5 245,405 C233.8,422.5 223.0,435.0 218,455 C213.0,475.0 207.2,505.8 215,525 C222.8,544.2 246.7,567.5 265,570 C283.3,572.5 309.2,548.3 325,540 C340.8,531.7 354.2,523.3 360,520"/>
<path class="k" d="M522,450 C514.7,441.0 494.2,411.7 478,396 C461.8,380.3 440.7,361.3 425,356 C409.3,350.7 396.2,354.0 384,364 C371.8,374.0 358.2,395.0 352,416 C345.8,437.0 343.5,467.2 347,490 C350.5,512.8 362.5,538.2 373,553 C383.5,567.8 396.0,575.5 410,579 C424.0,582.5 449.2,574.8 457,574"/>
<ellipse cx="470" cy="482" rx="50" ry="90" transform="rotate(-28 470 482)" class="t"/>
<ellipse cx="496" cy="514" rx="36" ry="52" transform="rotate(-28 496 514)" class="f"/>
<ellipse cx="506" cy="520" rx="20" ry="34" transform="rotate(-28 506 520)" style="fill:#555;stroke:#ddd;stroke-width:1.2"/>
<path d="M470,490 L482,548 M485,478 L498,540" style="stroke:#eee;stroke-width:1.3"/>
<path class="k" d="M320,490 L350,480 L365,520"/>
</g>
<g transform="translate(-77.5 134.5)">
<g transform="translate(356 362) scale(.25)" class="d">
<!-- part 15 -->
<path class="k" d="M140,215 L185,185 L215,215 L255,250 L260,300 L215,320 L160,290 L150,250 Z M185,185 L190,240 L215,320 M190,240 L150,250 M215,215 L255,250"/>
<path d="M262,290 C268.3,293.3 292.0,300.8 300,310 C308.0,319.2 315.0,330.0 310,345 C305.0,360.0 281.7,382.5 270,400 C258.3,417.5 245.8,431.7 240,450 C234.2,468.3 230.8,494.2 235,510 C239.2,525.8 252.5,543.3 265,545 C277.5,546.7 296.7,528.3 310,520 C323.3,511.7 339.2,499.2 345,495" />
<path d="M248,315 C253.3,317.5 273.8,324.2 280,330 C286.2,335.8 290.8,337.5 285,350 C279.2,362.5 256.2,387.5 245,405 C233.8,422.5 223.0,435.0 218,455 C213.0,475.0 207.2,505.8 215,525 C222.8,544.2 246.7,567.5 265,570 C283.3,572.5 309.2,548.3 325,540 C340.8,531.7 354.2,523.3 360,520"/>
<path class="k" d="M522,450 C514.7,441.0 494.2,411.7 478,396 C461.8,380.3 440.7,361.3 425,356 C409.3,350.7 396.2,354.0 384,364 C371.8,374.0 358.2,395.0 352,416 C345.8,437.0 343.5,467.2 347,490 C350.5,512.8 362.5,538.2 373,553 C383.5,567.8 396.0,575.5 410,579 C424.0,582.5 449.2,574.8 457,574"/>
<ellipse cx="470" cy="482" rx="50" ry="90" transform="rotate(-28 470 482)" class="t"/>
<ellipse cx="496" cy="514" rx="36" ry="52" transform="rotate(-28 496 514)" class="f"/>
<ellipse cx="506" cy="520" rx="20" ry="34" transform="rotate(-28 506 520)" style="fill:#555;stroke:#ddd;stroke-width:1.2"/>
<path d="M470,490 L482,548 M485,478 L498,540" style="stroke:#eee;stroke-width:1.3"/>
<path class="k" d="M320,490 L350,480 L365,520"/>
</g>
</g>
<path class="d" d="M334.5,664.7 L373.3,640" style="stroke-dasharray:3 1.6"/>
<!-- 39_viewO.svg -->
<g transform="translate(0 100) scale(.21127)" class="d">
<!-- ring terminals -->
<ellipse cx="535" cy="75" rx="15" ry="30" transform="rotate(22 535 75)" class="kk"/>
<ellipse cx="575" cy="160" rx="24" ry="15" transform="rotate(-18 575 160)" class="kk"/>
<path class="k" d="M522,102 L470,182 M553,168 L478,202"/>
<!-- sheath S-curve -->
<path d="M470,182 C466.7,183.7 465.0,183.0 450,192 C435.0,201.0 397.3,218.0 380,236 C362.7,254.0 351.0,277.7 346,300 C341.0,322.3 342.7,346.7 350,370 C357.3,393.3 378.0,421.7 390,440 C402.0,458.3 416.7,473.3 422,480"/>
<path d="M478,204 C467.0,211.7 429.0,232.3 412,250 C395.0,267.7 380.5,291.3 376,310 C371.5,328.7 375.7,340.3 385,362 C394.3,383.7 424.2,427.0 432,440"/>
<!-- bullets -->
<path d="M430,470 L490,400 M435,478 L525,440 M440,490 L545,505"/>
<path d="M485,402 L590,300" style="stroke-width:6"/>
<path d="M525,438 L640,372" style="stroke-width:6"/>
<path d="M500,390 L560,335 M545,425 L610,388" style="stroke:#fff;stroke-width:1;stroke-dasharray:2 2"/>
<path class="f" d="M530,500 L640,450 Q668,452 665,480 L560,535 Q530,535 530,500 Z"/>
<ellipse cx="572" cy="500" rx="12" ry="10" style="fill:#fff;stroke:none"/>
<path class="kk" d="M415,455 L445,505"/>
</g>
<!-- 40_viewQ.svg -->
<g transform="translate(380 150) scale(.168658)" class="d">
<!-- thin wire from top-left terminal -->
<path style="stroke-width:3.4" d="M170,-32 C167.7,-20.0 157.7,4.7 156,40 C154.3,75.3 162.7,138.3 160,180 C157.3,221.7 153.3,255.8 140,290 C126.7,324.2 90.0,369.2 80,385"/>
<!-- wire from terminal 570,60 -->
<path d="M600,130 C593.3,140.0 580.0,170.0 560,190 C540.0,210.0 506.7,231.7 480,250 C453.3,268.3 441.7,279.7 400,300 C358.3,320.3 280.0,354.5 230,372 C180.0,389.5 121.7,399.5 100,405" style="stroke-width:3.4"/>
<!-- main harness -->
<path d="M-5,446 L145,432" style="stroke-width:9.5;stroke:#1c1c1c"/>
<path d="M140,433 C158.3,431.7 211.7,429.2 250,425 C288.3,420.8 350.0,410.8 370,408" style="stroke-width:10.5;stroke:#1c1c1c"/>
<path d="M150,433 C166.7,431.7 214.7,429.0 250,425 C285.3,421.0 343.3,411.7 362,409" style="stroke-width:7.5;stroke:#fff;stroke-dasharray:3.2 3;stroke-linecap:butt"/>
<path class="f" d="M365,385 L520,432 L520,468 L365,438 Z"/>
<path d="M512,448 C521.7,446.7 550.3,438.8 570,440 C589.7,441.2 620.0,452.5 630,455" style="stroke-width:8;stroke:#1c1c1c"/>
<path d="M520,447 C528.3,445.8 553.0,439.2 570,440 C587.0,440.8 613.3,450.0 622,452" style="stroke-width:5.2;stroke:#fff;stroke-dasharray:2.4 2.6;stroke-linecap:butt"/>
<path d="M625,465 C621.7,476.7 623.3,511.7 605,535 C586.7,558.3 530.0,593.3 515,605" style="stroke-width:9.5;stroke:#1c1c1c"/>
<path d="M625,470 C621.7,480.8 622.5,513.3 605,535 C587.5,556.7 534.2,589.2 520,600" style="stroke-width:6.5;stroke:#fff;stroke-dasharray:2.6 2.8;stroke-linecap:butt"/>
<!-- big bundle from top -->
<path d="M690,-40 C700.0,-20.0 731.7,38.3 750,80 C768.3,121.7 789.7,171.7 800,210 C810.3,248.3 816.2,277.5 812,310 C807.8,342.5 793.7,383.7 775,405 C756.3,426.3 722.5,431.2 700,438 C677.5,444.8 650.0,444.7 640,446" style="stroke-width:9;stroke:#1c1c1c"/>
<path d="M385,348 C404.2,344.7 457.5,332.7 500,328 C542.5,323.3 595.0,320.3 640,320 C685.0,319.7 748.3,325.0 770,326" style="stroke-width:3.6"/>
<!-- wires below knot -->
<path d="M570,590 C572.5,600.0 573.3,626.7 585,650 C596.7,673.3 630.8,716.7 640,730 M600,585 C602.5,594.2 603.3,616.8 615,640 C626.7,663.2 660.8,710.0 670,724" class="k"/>
</g>
<!-- 41_viewS.svg -->
<g transform="translate(980 480) scale(.21127)" class="d">
<!-- plate 23 left/bottom -->
<path style="stroke-width:3.6" d="M418,-250 L112,8 Q78,30 78,60 L76,200 L86,468 Q90,498 118,482 L703,-88"/>
<ellipse cx="166" cy="186" rx="44" ry="90" transform="rotate(15 166 186)" class="kk"/>
<ellipse cx="166" cy="356" rx="17" ry="30" transform="rotate(25 166 356)" class="kk"/>
<ellipse cx="296" cy="241" rx="16" ry="24" transform="rotate(20 296 241)" class="kk"/>
<ellipse cx="356" cy="26" rx="14" ry="28" transform="rotate(25 356 26)" class="kk"/>
<path class="kk" d="M400,135 L418,122 L428,145 L410,160 Z"/>
<path d="M-104,395 H72 M435,605 H580 M850,510 L940,600"/>
<!-- part 25 box -->
<path class="k" d="M515,190 L888,472 L826,570 L440,268 Z" style="stroke-width:2"/>
<path class="k" d="M395,290 L766,580 L696,680 L310,370 Z" style="stroke-width:2"/>
<path d="M482,240 L790,478" style="stroke-width:6.2;stroke-dasharray:4.5 2 3 2;stroke-linecap:butt"/>
<path d="M355,350 L665,585" style="stroke-width:6.2;stroke-dasharray:4.5 2 3 2;stroke-linecap:butt"/>
<ellipse cx="822" cy="500" rx="30" ry="34" class="f"/>
<ellipse cx="694" cy="606" rx="30" ry="34" class="f"/>
<ellipse cx="826" cy="502" rx="10" ry="16" transform="rotate(-20 826 502)" style="stroke:#aaa;stroke-width:1.3"/>
<ellipse cx="698" cy="608" rx="10" ry="16" transform="rotate(-20 698 608)" style="stroke:#aaa;stroke-width:1.3"/>
</g>
<!-- 42_viewUV.svg -->
<g class="d">
<!-- bottom band global -->
<path class="kk" d="M1057,383 L770,641.6"/>
<path class="k" d="M765,623 L1055.2,376.4"/>
</g>
<g transform="translate(700 450) scale(.24876)" class="d">
<!-- left band lower -->
<path class="kk" d="M135,0 L172,186 L212,200"/>
<path class="kk" d="M190,0 C194.2,31.7 206.7,123.3 215,190 C223.3,256.7 232.2,335.0 240,400 C247.8,465.0 255.0,518.3 262,580 C269.0,641.7 278.7,738.3 282,770"/>
<!-- bracket -->
<path class="kk" d="M150,290 L236,352 M150,290 L156,345 L190,592 L258,642"/>
<circle cx="196" cy="396" r="17" class="f"/><circle cx="211" cy="570" r="17" class="f"/>
<!-- speaker recess frame -->
<path style="stroke-width:3.2" d="M340,622 L295,236 L580,10 Q590,30 592,62 L606,420 L372,632 Q350,640 340,622 Z"/>
</g>
<g transform="translate(760 470) scale(.24876)" class="d">
<ellipse cx="205" cy="232" rx="92" ry="172" transform="rotate(27 205 232)" style="stroke-width:3.2"/>
<path d="M300,105 C303.7,115.8 318.3,145.8 322,170 C325.7,194.2 327.3,222.5 322,250 C316.7,277.5 305.3,310.8 290,335 C274.7,359.2 250.0,380.8 230,395 C210.0,409.2 187.0,420.5 170,420 C153.0,419.5 135.0,396.7 128,392" style="stroke-width:3"/>
<path d="M118,330 C125.0,337.0 143.8,365.7 160,372 C176.2,378.3 197.5,377.0 215,368 C232.5,359.0 256.7,326.3 265,318" class="k"/>
<ellipse cx="170" cy="215" rx="25" ry="52" transform="rotate(27 170 215)" class="kk"/>
<!-- label rect -->
<path class="k" d="M375,62 L530,-45 M396,300 L382,98 M396,300 L600,132 L592,-10"/>
<path d="M384,100 L565,-25" style="stroke-width:3.4;stroke-dasharray:3 1.6;stroke-linecap:butt"/>
</g>
<!-- 43_viewZ.svg -->
<g transform="translate(300 370) scale(.138143)" class="d">
<path class="k w" d="M410,205 L460,165 L490,185 L572,252 L578,385 L520,425 L420,385 L402,300 Z"/>
<path class="k" d="M460,165 L472,212 L440,372 M472,212 L562,272 L520,425 M562,272 L572,252"/>
<path class="f" d="M535,290 L570,275 L574,380 L535,405 Z"/>
<path d="M545,320 L565,312 M545,360 L565,350" style="stroke:#fff;stroke-width:1.5"/>
<path class="kk" d="M400,300 L395,330 M420,385 L425,400"/>
</g>
<!-- 44_viewAA.svg -->
<g transform="translate(100 90) scale(.138143)" class="d">
<!-- cup body -->
<path class="k" d="M360,192 C342.5,186.0 279.0,157.0 255,156 C231.0,155.0 225.2,170.3 216,186 C206.8,201.7 198.3,229.0 200,250 C201.7,271.0 208.3,283.7 226,312 C243.7,340.3 292.7,402.0 306,420"/>
<!-- ring -->
<ellipse cx="412" cy="345" rx="100" ry="160" transform="rotate(-22 412 345)" class="kk"/>
<path d="M345,215 C339.5,227.5 318.2,262.5 312,290 C305.8,317.5 303.3,352.5 308,380 C312.7,407.5 325.5,435.3 340,455 C354.5,474.7 385.8,490.8 395,498" style="stroke-width:7"/>
<ellipse cx="428" cy="350" rx="58" ry="100" transform="rotate(-22 428 350)" class="k"/>
<ellipse cx="420" cy="347" rx="78" ry="128" transform="rotate(-22 420 347)" class="t" style="stroke:#555"/>
</g>
<!-- 90_labels.svg -->
<g class="lb">
<text transform="translate(139 80) scale(.86 1)">1</text>
<text transform="translate(208 45) scale(.86 1)">2</text>
<text transform="translate(365 75) scale(.86 1)">3</text>
<text transform="translate(453.5 85) scale(.86 1)">4</text>
<text transform="translate(427 101) scale(.86 1)">5</text>
<text transform="translate(225 510) scale(.86 1)">6</text>
<text transform="translate(124 493) scale(.86 1)">7</text>
<text transform="translate(296 430) scale(.86 1)">8</text>
<text transform="translate(557 425) scale(.86 1)">9</text>
<text transform="translate(628.5 400) scale(.86 1)">10</text>
<text transform="translate(656 335) scale(.86 1)">11</text>
<text transform="translate(566 511) scale(.86 1)">12</text>
<text transform="translate(660 516) scale(.86 1)">13</text>
<text transform="translate(525 632) scale(.86 1)">16</text>
<text transform="translate(635 176) scale(.86 1)">17</text>
<text transform="translate(681 201) scale(.86 1)">18</text>
<text transform="translate(902 158) scale(.86 1)">19</text>
<text transform="translate(661 571) scale(.86 1)">21</text>
<text transform="translate(890 667) scale(.86 1)">22</text>
<text transform="translate(947 576) scale(.86 1)">23</text>
<text transform="translate(1058 619) scale(.86 1)">24</text>
<text transform="translate(1194 632) scale(.86 1)">25</text>
<text transform="translate(1250 445) scale(.86 1)">26</text>
</g>
<g class="lc">
<text transform="translate(77 576) scale(.78 1)">20</text>
<text transform="translate(190.5 663) scale(.78 1)">28</text>
<text transform="translate(321.6 677.6) scale(.78 1)">14</text>
<text transform="translate(957.7 118.6) scale(.68 1)" style="font-size:23px">27</text>
<text transform="translate(1379.1 195.8) scale(.66 1)" style="font-size:27px;stroke-width:.2">29</text>
</g>
<text transform="translate(464.2 563.2) scale(.62 1)" style='font-family:"Liberation Serif",serif;font-size:29px;stroke-width:.9'>15</text>
</g>
</svg>
</body></html>
